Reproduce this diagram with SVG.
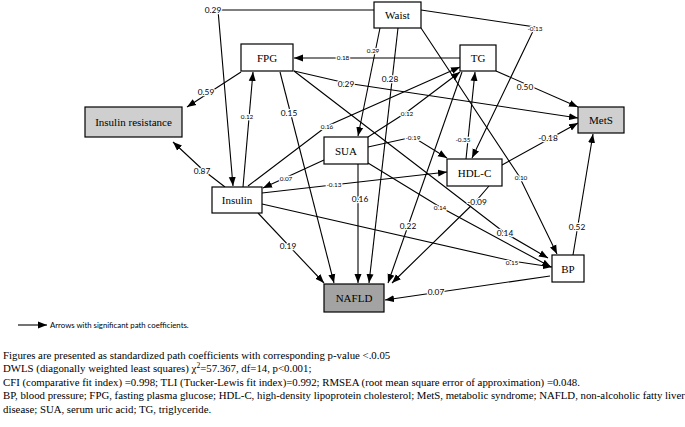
<svg xmlns="http://www.w3.org/2000/svg" width="685" height="427" viewBox="0 0 685 427">
<style>
.n{stroke:#000;stroke-width:1.2;fill:#fff}
.g1{fill:#cfcfcf}
.g2{fill:#a3a3a3}
.nt{font-family:"Liberation Serif","Times New Roman",serif;font-size:11px;font-weight:400;text-anchor:middle;fill:#000}
.e{fill:none;stroke:#000;stroke-width:1.1;marker-end:url(#ah)}
.lab{font-family:Lato,"Liberation Sans",sans-serif;text-anchor:middle;dominant-baseline:central;fill:#000;stroke:#fff;stroke-width:2.5;paint-order:stroke;stroke-linejoin:round}
.big{font-size:8.3px}
.sml{font-size:6.4px}
.f{font-family:"Liberation Serif","Times New Roman",serif;font-size:10.8px;fill:#000}
.lg{font-family:Lato,"Liberation Sans",sans-serif;font-size:7.8px;fill:#000}
</style>
<defs>
<marker id="ah" markerUnits="userSpaceOnUse" markerWidth="10" markerHeight="8" refX="9" refY="4" orient="auto">
<path d="M0,0.5 L9,4 L0,7.5 z" fill="#000"/>
</marker>
</defs>
<g id="connectors">
<polyline class="e" points="374,10 218,10 233,186"/>
<line class="e" x1="380" y1="28" x2="358" y2="136"/>
<line class="e" x1="398" y1="28" x2="369" y2="283"/>
<polyline class="e" points="421,28 519,176 557,254"/>
<polyline class="e" points="421,10 535,27 472,158"/>
<line class="e" x1="460" y1="58" x2="294" y2="58"/>
<polyline class="e" points="294,71 346,83 578,118"/>
<line class="e" x1="496" y1="71" x2="578" y2="107"/>
<line class="e" x1="241" y1="72" x2="187" y2="107"/>
<polyline class="e" points="225,187 203,170 173,142"/>
<line class="e" x1="243" y1="187" x2="253" y2="72"/>
<polyline class="e" points="248,186 327,126 460,67"/>
<polyline class="e" points="368,137 407,112 460,72"/>
<polyline class="e" points="368,147 413,137 447,158"/>
<line class="e" x1="324" y1="160" x2="263" y2="188"/>
<line class="e" x1="262" y1="193" x2="447" y2="172"/>
<polyline class="e" points="262,204 512,261 552,267"/>
<line class="e" x1="258" y1="213" x2="324" y2="283"/>
<line class="e" x1="280" y1="72" x2="334" y2="283"/>
<line class="e" x1="358" y1="164" x2="358" y2="283"/>
<line class="e" x1="462" y1="72" x2="388" y2="283"/>
<polyline class="e" points="489,186 476,201 392,283"/>
<line class="e" x1="502" y1="165" x2="578" y2="123"/>
<line class="e" x1="573" y1="255" x2="593" y2="134"/>
<line class="e" x1="550" y1="276" x2="385" y2="300"/>
<polyline class="e" points="294,71 505,233 548,258"/>
<polyline class="e" points="368,163 440,207 551,267"/>
<line class="e" x1="466" y1="159" x2="475" y2="72"/>
</g>
<g id="labels">
<text class="lab big" x="213" y="10">0.29</text>
<text class="lab sml" x="373" y="50">0.29</text>
<text class="lab big" x="390" y="79">0.28</text>
<text class="lab sml" x="521" y="177">0.10</text>
<text class="lab sml" x="535" y="28">-0.13</text>
<text class="lab sml" x="343" y="57">0.18</text>
<text class="lab big" x="346" y="84">0.29</text>
<text class="lab big" x="525" y="87">0.50</text>
<text class="lab big" x="206" y="92">0.59</text>
<text class="lab big" x="202" y="171">0.87</text>
<text class="lab sml" x="247" y="116">0.12</text>
<text class="lab sml" x="327" y="126">0.16</text>
<text class="lab sml" x="407" y="113">0.12</text>
<text class="lab sml" x="413" y="137">-0.19</text>
<text class="lab sml" x="286" y="178">0.07</text>
<text class="lab sml" x="334" y="184">-0.13</text>
<text class="lab sml" x="512" y="262">0.15</text>
<text class="lab big" x="288" y="246">0.19</text>
<text class="lab big" x="289" y="113">0.15</text>
<text class="lab big" x="360" y="199">0.16</text>
<text class="lab big" x="408" y="226">0.22</text>
<text class="lab big" x="477" y="202">-0.09</text>
<text class="lab big" x="548" y="138">-0.18</text>
<text class="lab big" x="577" y="227">0.52</text>
<text class="lab big" x="436" y="292">0.07</text>
<text class="lab big" x="505" y="233">0.14</text>
<text class="lab sml" x="440" y="207">0.14</text>
<text class="lab sml" x="463" y="139">-0.35</text>
</g>
<g id="waist"><rect class="n" x="374" y="2" width="47" height="26"/><text class="nt" x="397.5" y="19">Waist</text></g>
<g id="fpg"><rect class="n" x="241" y="44" width="52" height="27"/><text class="nt" x="267" y="61.5">FPG</text></g>
<g id="tg"><rect class="n" x="460" y="45" width="36" height="26"/><text class="nt" x="478" y="62">TG</text></g>
<g id="mets"><rect class="n g1" x="578" y="107" width="46" height="26"/><text class="nt" x="601" y="124">MetS</text></g>
<g id="insulin-resistance"><rect class="n g1" x="85" y="107" width="97" height="30"/><text class="nt" x="133.5" y="126">Insulin resistance</text></g>
<g id="sua"><rect class="n" x="324" y="137" width="44" height="27"/><text class="nt" x="346" y="154.5">SUA</text></g>
<g id="hdl-c"><rect class="n" x="447" y="159" width="55" height="27"/><text class="nt" x="474.5" y="176.5">HDL-C</text></g>
<g id="insulin"><rect class="n" x="212" y="187" width="50" height="26"/><text class="nt" x="237" y="204">Insulin</text></g>
<g id="bp"><rect class="n" x="552" y="255" width="32" height="27"/><text class="nt" x="568" y="272.5">BP</text></g>
<g id="nafld"><rect class="n g2" x="324" y="284" width="60" height="28"/><text class="nt" x="354" y="302">NAFLD</text></g>
<g id="legend">
<line class="e" x1="18" y1="325" x2="47" y2="325"/>
<text class="lg" x="50" y="327.5">Arrows with significant path coefficients.</text>
</g>
<g id="notes">
<text class="f" x="3" y="359">Figures are presented as standardized path coefficients with corresponding p-value &lt;.0.05</text>
<text class="f" x="3" y="372">DWLS (diagonally weighted least squares) χ<tspan font-size="7.5" dy="-4">2</tspan><tspan dy="4">=57.367, df=14, p&lt;0.001;</tspan></text>
<text class="f" x="3" y="386">CFI (comparative fit index) =0.998; TLI (Tucker-Lewis fit index)=0.992; RMSEA (root mean square error of approximation) =0.048.</text>
<text class="f" x="3" y="399">BP, blood pressure; FPG, fasting plasma glucose; HDL-C, high-density lipoprotein cholesterol; MetS, metabolic syndrome; NAFLD, non-alcoholic fatty liver</text>
<text class="f" x="3" y="413">disease; SUA, serum uric acid; TG, triglyceride.</text>
</g>
</svg>
